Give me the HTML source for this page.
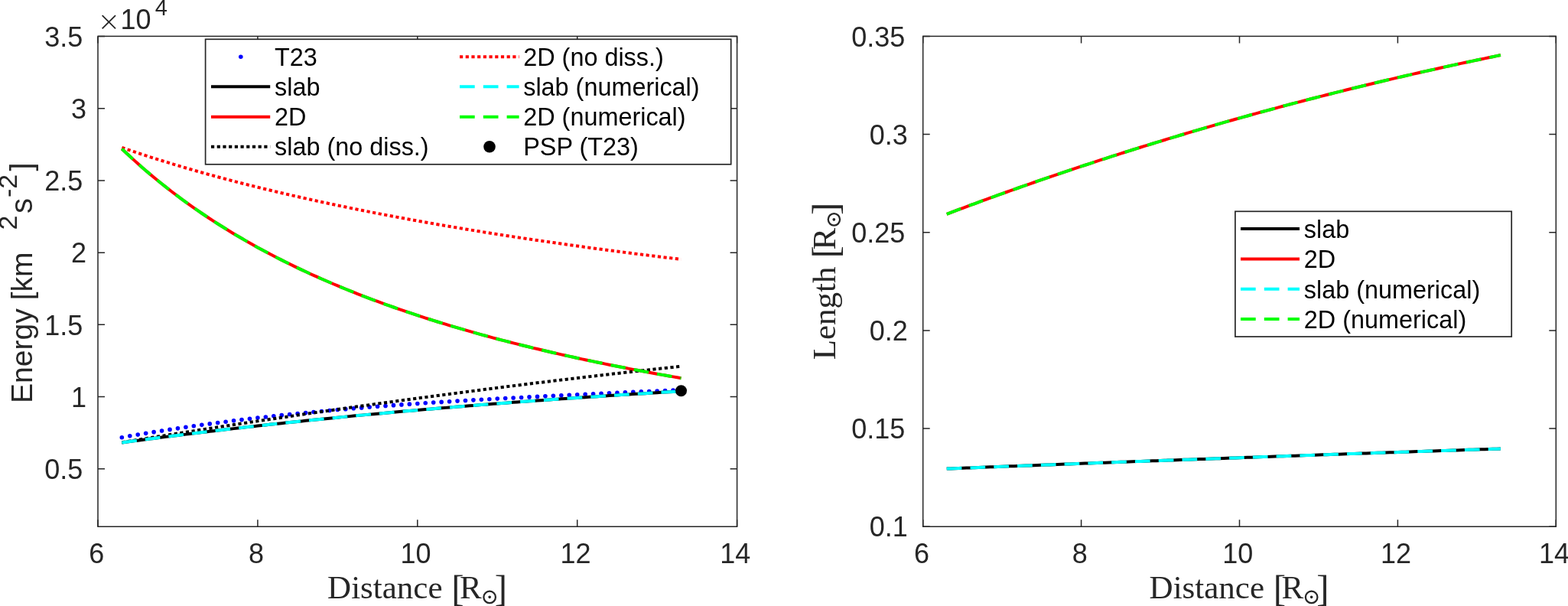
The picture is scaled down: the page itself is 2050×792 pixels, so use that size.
<!DOCTYPE html><html><head><meta charset="utf-8"><title>Energy and length vs distance</title><style>
html,body{margin:0;padding:0;background:#fff;}svg{display:block;}
.tk{font-family:"Liberation Sans",Arial,Helvetica,sans-serif;font-size:36px;fill:#262626;}
.lg{font-family:"Liberation Sans",Arial,Helvetica,sans-serif;font-size:32.4px;fill:#000;}
.lb{font-family:"Liberation Sans",Arial,Helvetica,sans-serif;font-size:40px;fill:#262626;}
.sf{font-family:"Liberation Serif","DejaVu Serif",serif;font-size:43px;fill:#262626;}
</style></head><body>
<svg width="2050" height="792" viewBox="0 0 2050 792">
<rect width="2050" height="792" fill="#fff"/>
<g stroke="#262626" stroke-width="1.5" fill="none"><rect x="128.00" y="47.40" width="835.60" height="640.85"/><path d="M128.00 688.25v-9.00 M128.00 47.40v9.00 M336.90 688.25v-9.00 M336.90 47.40v9.00 M545.80 688.25v-9.00 M545.80 47.40v9.00 M754.70 688.25v-9.00 M754.70 47.40v9.00 M963.60 688.25v-9.00 M963.60 47.40v9.00 M128.00 612.86h9.00 M963.60 612.86h-9.00 M128.00 518.61h9.00 M963.60 518.61h-9.00 M128.00 424.37h9.00 M963.60 424.37h-9.00 M128.00 330.13h9.00 M963.60 330.13h-9.00 M128.00 235.89h9.00 M963.60 235.89h-9.00 M128.00 141.64h9.00 M963.60 141.64h-9.00 M128.00 47.40h9.00 M963.60 47.40h-9.00"/></g>
<g stroke="#262626" stroke-width="1.5" fill="none"><rect x="1206.70" y="47.40" width="827.60" height="640.85"/><path d="M1206.70 688.25v-9.00 M1206.70 47.40v9.00 M1413.60 688.25v-9.00 M1413.60 47.40v9.00 M1620.50 688.25v-9.00 M1620.50 47.40v9.00 M1827.40 688.25v-9.00 M1827.40 47.40v9.00 M2034.30 688.25v-9.00 M2034.30 47.40v9.00 M1206.70 688.25h9.00 M2034.30 688.25h-9.00 M1206.70 560.08h9.00 M2034.30 560.08h-9.00 M1206.70 431.91h9.00 M2034.30 431.91h-9.00 M1206.70 303.74h9.00 M2034.30 303.74h-9.00 M1206.70 175.57h9.00 M2034.30 175.57h-9.00 M1206.70 47.40h9.00 M2034.30 47.40h-9.00"/></g>
<g fill="#0000ff"><circle cx="159.33" cy="571.68" r="2.8"/><circle cx="169.78" cy="569.86" r="2.8"/><circle cx="180.22" cy="568.09" r="2.8"/><circle cx="190.67" cy="566.35" r="2.8"/><circle cx="201.12" cy="564.66" r="2.8"/><circle cx="211.56" cy="563.01" r="2.8"/><circle cx="222.01" cy="561.40" r="2.8"/><circle cx="232.45" cy="559.83" r="2.8"/><circle cx="242.89" cy="558.29" r="2.8"/><circle cx="253.34" cy="556.80" r="2.8"/><circle cx="263.78" cy="555.34" r="2.8"/><circle cx="274.23" cy="553.92" r="2.8"/><circle cx="284.68" cy="552.53" r="2.8"/><circle cx="295.12" cy="551.18" r="2.8"/><circle cx="305.57" cy="549.86" r="2.8"/><circle cx="316.01" cy="548.58" r="2.8"/><circle cx="326.46" cy="547.33" r="2.8"/><circle cx="336.90" cy="546.11" r="2.8"/><circle cx="347.34" cy="544.93" r="2.8"/><circle cx="357.79" cy="543.77" r="2.8"/><circle cx="368.24" cy="542.64" r="2.8"/><circle cx="378.68" cy="541.55" r="2.8"/><circle cx="389.12" cy="540.48" r="2.8"/><circle cx="399.57" cy="539.44" r="2.8"/><circle cx="410.01" cy="538.43" r="2.8"/><circle cx="420.46" cy="537.44" r="2.8"/><circle cx="430.91" cy="536.48" r="2.8"/><circle cx="441.35" cy="535.55" r="2.8"/><circle cx="451.79" cy="534.64" r="2.8"/><circle cx="462.24" cy="533.76" r="2.8"/><circle cx="472.69" cy="532.89" r="2.8"/><circle cx="483.13" cy="532.05" r="2.8"/><circle cx="493.57" cy="531.23" r="2.8"/><circle cx="504.02" cy="530.44" r="2.8"/><circle cx="514.46" cy="529.66" r="2.8"/><circle cx="524.91" cy="528.90" r="2.8"/><circle cx="535.36" cy="528.17" r="2.8"/><circle cx="545.80" cy="527.45" r="2.8"/><circle cx="556.24" cy="526.75" r="2.8"/><circle cx="566.69" cy="526.06" r="2.8"/><circle cx="577.14" cy="525.39" r="2.8"/><circle cx="587.58" cy="524.74" r="2.8"/><circle cx="598.03" cy="524.10" r="2.8"/><circle cx="608.47" cy="523.48" r="2.8"/><circle cx="618.91" cy="522.87" r="2.8"/><circle cx="629.36" cy="522.27" r="2.8"/><circle cx="639.81" cy="521.68" r="2.8"/><circle cx="650.25" cy="521.11" r="2.8"/><circle cx="660.70" cy="520.54" r="2.8"/><circle cx="671.14" cy="519.99" r="2.8"/><circle cx="681.59" cy="519.44" r="2.8"/><circle cx="692.03" cy="518.91" r="2.8"/><circle cx="702.48" cy="518.38" r="2.8"/><circle cx="712.92" cy="517.86" r="2.8"/><circle cx="723.36" cy="517.35" r="2.8"/><circle cx="733.81" cy="516.84" r="2.8"/><circle cx="744.26" cy="516.33" r="2.8"/><circle cx="754.70" cy="515.83" r="2.8"/><circle cx="765.15" cy="515.34" r="2.8"/><circle cx="775.59" cy="514.85" r="2.8"/><circle cx="786.04" cy="514.36" r="2.8"/><circle cx="796.48" cy="513.87" r="2.8"/><circle cx="806.93" cy="513.38" r="2.8"/><circle cx="817.37" cy="512.89" r="2.8"/><circle cx="827.81" cy="512.41" r="2.8"/><circle cx="838.26" cy="511.92" r="2.8"/><circle cx="848.71" cy="511.43" r="2.8"/><circle cx="859.15" cy="510.93" r="2.8"/><circle cx="869.60" cy="510.44" r="2.8"/><circle cx="880.04" cy="509.94" r="2.8"/><circle cx="890.49" cy="509.43" r="2.8"/></g>
<path d="M159.33,578.46 L164.56,577.75 L169.78,577.05 L175.00,576.35 L180.22,575.65 L185.45,574.96 L190.67,574.27 L195.89,573.59 L201.12,572.91 L206.34,572.23 L211.56,571.56 L216.78,570.89 L222.01,570.23 L227.23,569.57 L232.45,568.91 L237.67,568.26 L242.89,567.61 L248.12,566.96 L253.34,566.32 L258.56,565.68 L263.78,565.05 L269.01,564.42 L274.23,563.79 L279.45,563.17 L284.68,562.55 L289.90,561.94 L295.12,561.33 L300.34,560.72 L305.57,560.12 L310.79,559.52 L316.01,558.92 L321.23,558.33 L326.46,557.74 L331.68,557.15 L336.90,556.57 L342.12,555.99 L347.34,555.42 L352.57,554.84 L357.79,554.28 L363.01,553.71 L368.24,553.15 L373.46,552.59 L378.68,552.04 L383.90,551.49 L389.12,550.94 L394.35,550.39 L399.57,549.85 L404.79,549.32 L410.01,548.78 L415.24,548.25 L420.46,547.72 L425.68,547.20 L430.91,546.68 L436.13,546.16 L441.35,545.64 L446.57,545.13 L451.80,544.62 L457.02,544.12 L462.24,543.61 L467.46,543.11 L472.69,542.62 L477.91,542.12 L483.13,541.63 L488.35,541.15 L493.57,540.66 L498.80,540.18 L504.02,539.70 L509.24,539.23 L514.47,538.76 L519.69,538.29 L524.91,537.82 L530.13,537.36 L535.36,536.90 L540.58,536.44 L545.80,535.98 L551.02,535.53 L556.25,535.08 L561.47,534.64 L566.69,534.19 L571.91,533.75 L577.14,533.31 L582.36,532.88 L587.58,532.44 L592.80,532.01 L598.03,531.58 L603.25,531.16 L608.47,530.74 L613.69,530.32 L618.92,529.90 L624.14,529.49 L629.36,529.07 L634.58,528.66 L639.81,528.26 L645.03,527.85 L650.25,527.45 L655.47,527.05 L660.70,526.65 L665.92,526.26 L671.14,525.86 L676.36,525.47 L681.59,525.09 L686.81,524.70 L692.03,524.32 L697.25,523.94 L702.48,523.56 L707.70,523.18 L712.92,522.81 L718.14,522.44 L723.37,522.07 L728.59,521.70 L733.81,521.34 L739.03,520.97 L744.26,520.61 L749.48,520.25 L754.70,519.90 L759.92,519.54 L765.15,519.19 L770.37,518.84 L775.59,518.49 L780.81,518.14 L786.04,517.80 L791.26,517.46 L796.48,517.12 L801.70,516.78 L806.93,516.44 L812.15,516.11 L817.37,515.78 L822.59,515.44 L827.82,515.12 L833.04,514.79 L838.26,514.46 L843.48,514.14 L848.71,513.82 L853.93,513.50 L859.15,513.18 L864.37,512.86 L869.60,512.55 L874.82,512.24 L880.04,511.93 L885.26,511.62 L890.49,511.31" fill="none" stroke="#000" stroke-width="4.00" stroke-linejoin="round"/>
<path d="M159.33,194.51 L164.56,199.47 L169.78,204.33 L175.00,209.11 L180.22,213.80 L185.45,218.41 L190.67,222.93 L195.89,227.38 L201.12,231.74 L206.34,236.04 L211.56,240.25 L216.78,244.40 L222.01,248.48 L227.23,252.49 L232.45,256.43 L237.67,260.31 L242.89,264.12 L248.12,267.87 L253.34,271.56 L258.56,275.19 L263.78,278.76 L269.01,282.28 L274.23,285.74 L279.45,289.15 L284.68,292.51 L289.90,295.81 L295.12,299.06 L300.34,302.27 L305.57,305.42 L310.79,308.53 L316.01,311.59 L321.23,314.61 L326.46,317.58 L331.68,320.51 L336.90,323.40 L342.12,326.24 L347.34,329.05 L352.57,331.81 L357.79,334.54 L363.01,337.23 L368.24,339.88 L373.46,342.49 L378.68,345.07 L383.90,347.61 L389.12,350.12 L394.35,352.60 L399.57,355.04 L404.79,357.45 L410.01,359.82 L415.24,362.17 L420.46,364.49 L425.68,366.77 L430.91,369.03 L436.13,371.25 L441.35,373.45 L446.57,375.62 L451.80,377.76 L457.02,379.88 L462.24,381.97 L467.46,384.03 L472.69,386.07 L477.91,388.08 L483.13,390.07 L488.35,392.04 L493.57,393.98 L498.80,395.90 L504.02,397.79 L509.24,399.66 L514.47,401.51 L519.69,403.34 L524.91,405.15 L530.13,406.93 L535.36,408.70 L540.58,410.44 L545.80,412.17 L551.02,413.87 L556.25,415.56 L561.47,417.23 L566.69,418.88 L571.91,420.51 L577.14,422.12 L582.36,423.71 L587.58,425.29 L592.80,426.85 L598.03,428.39 L603.25,429.92 L608.47,431.43 L613.69,432.92 L618.92,434.40 L624.14,435.86 L629.36,437.31 L634.58,438.74 L639.81,440.16 L645.03,441.56 L650.25,442.95 L655.47,444.32 L660.70,445.68 L665.92,447.02 L671.14,448.36 L676.36,449.67 L681.59,450.98 L686.81,452.27 L692.03,453.55 L697.25,454.82 L702.48,456.07 L707.70,457.31 L712.92,458.54 L718.14,459.76 L723.37,460.96 L728.59,462.16 L733.81,463.34 L739.03,464.51 L744.26,465.67 L749.48,466.82 L754.70,467.96 L759.92,469.09 L765.15,470.20 L770.37,471.31 L775.59,472.41 L780.81,473.49 L786.04,474.57 L791.26,475.64 L796.48,476.69 L801.70,477.74 L806.93,478.78 L812.15,479.81 L817.37,480.82 L822.59,481.84 L827.82,482.84 L833.04,483.83 L838.26,484.81 L843.48,485.79 L848.71,486.75 L853.93,487.71 L859.15,488.66 L864.37,489.60 L869.60,490.54 L874.82,491.46 L880.04,492.38 L885.26,493.29 L890.49,494.19" fill="none" stroke="#ff0000" stroke-width="4.00" stroke-linejoin="round"/>
<path d="M159.33,578.17 L164.56,577.32 L169.78,576.47 L175.00,575.62 L180.22,574.78 L185.45,573.94 L190.67,573.10 L195.89,572.26 L201.12,571.43 L206.34,570.59 L211.56,569.76 L216.78,568.93 L222.01,568.10 L227.23,567.27 L232.45,566.45 L237.67,565.63 L242.89,564.80 L248.12,563.99 L253.34,563.17 L258.56,562.35 L263.78,561.54 L269.01,560.73 L274.23,559.92 L279.45,559.11 L284.68,558.30 L289.90,557.50 L295.12,556.70 L300.34,555.90 L305.57,555.10 L310.79,554.30 L316.01,553.51 L321.23,552.72 L326.46,551.92 L331.68,551.14 L336.90,550.35 L342.12,549.56 L347.34,548.78 L352.57,548.00 L357.79,547.22 L363.01,546.45 L368.24,545.67 L373.46,544.90 L378.68,544.13 L383.90,543.36 L389.12,542.59 L394.35,541.83 L399.57,541.06 L404.79,540.30 L410.01,539.54 L415.24,538.79 L420.46,538.03 L425.68,537.28 L430.91,536.53 L436.13,535.78 L441.35,535.03 L446.57,534.29 L451.80,533.54 L457.02,532.80 L462.24,532.06 L467.46,531.33 L472.69,530.59 L477.91,529.86 L483.13,529.13 L488.35,528.40 L493.57,527.67 L498.80,526.95 L504.02,526.23 L509.24,525.51 L514.47,524.79 L519.69,524.07 L524.91,523.36 L530.13,522.65 L535.36,521.94 L540.58,521.23 L545.80,520.52 L551.02,519.82 L556.25,519.12 L561.47,518.42 L566.69,517.72 L571.91,517.03 L577.14,516.33 L582.36,515.64 L587.58,514.95 L592.80,514.27 L598.03,513.58 L603.25,512.90 L608.47,512.22 L613.69,511.54 L618.92,510.87 L624.14,510.19 L629.36,509.52 L634.58,508.85 L639.81,508.19 L645.03,507.52 L650.25,506.86 L655.47,506.20 L660.70,505.54 L665.92,504.88 L671.14,504.23 L676.36,503.58 L681.59,502.93 L686.81,502.28 L692.03,501.63 L697.25,500.99 L702.48,500.35 L707.70,499.71 L712.92,499.08 L718.14,498.44 L723.37,497.81 L728.59,497.18 L733.81,496.55 L739.03,495.93 L744.26,495.31 L749.48,494.69 L754.70,494.07 L759.92,493.45 L765.15,492.84 L770.37,492.23 L775.59,491.62 L780.81,491.01 L786.04,490.41 L791.26,489.80 L796.48,489.20 L801.70,488.60 L806.93,488.01 L812.15,487.42 L817.37,486.83 L822.59,486.24 L827.82,485.65 L833.04,485.07 L838.26,484.48 L843.48,483.91 L848.71,483.33 L853.93,482.75 L859.15,482.18 L864.37,481.61 L869.60,481.04 L874.82,480.48 L880.04,479.92 L885.26,479.36 L890.49,478.80" fill="none" stroke="#000" stroke-width="4.00" stroke-linejoin="round" stroke-dasharray="4.2 3.5"/>
<path d="M159.33,192.84 L164.56,194.64 L169.78,196.42 L175.00,198.18 L180.22,199.93 L185.45,201.65 L190.67,203.36 L195.89,205.04 L201.12,206.71 L206.34,208.37 L211.56,210.00 L216.78,211.62 L222.01,213.22 L227.23,214.80 L232.45,216.37 L237.67,217.92 L242.89,219.46 L248.12,220.98 L253.34,222.49 L258.56,223.98 L263.78,225.45 L269.01,226.92 L274.23,228.36 L279.45,229.80 L284.68,231.22 L289.90,232.63 L295.12,234.02 L300.34,235.40 L305.57,236.77 L310.79,238.12 L316.01,239.47 L321.23,240.80 L326.46,242.12 L331.68,243.42 L336.90,244.72 L342.12,246.00 L347.34,247.27 L352.57,248.54 L357.79,249.79 L363.01,251.03 L368.24,252.25 L373.46,253.47 L378.68,254.68 L383.90,255.88 L389.12,257.07 L394.35,258.24 L399.57,259.41 L404.79,260.57 L410.01,261.72 L415.24,262.86 L420.46,263.99 L425.68,265.11 L430.91,266.22 L436.13,267.32 L441.35,268.42 L446.57,269.50 L451.80,270.58 L457.02,271.65 L462.24,272.71 L467.46,273.76 L472.69,274.81 L477.91,275.84 L483.13,276.87 L488.35,277.89 L493.57,278.90 L498.80,279.91 L504.02,280.91 L509.24,281.90 L514.47,282.88 L519.69,283.85 L524.91,284.82 L530.13,285.78 L535.36,286.74 L540.58,287.69 L545.80,288.63 L551.02,289.56 L556.25,290.49 L561.47,291.41 L566.69,292.33 L571.91,293.23 L577.14,294.14 L582.36,295.03 L587.58,295.92 L592.80,296.80 L598.03,297.68 L603.25,298.55 L608.47,299.42 L613.69,300.28 L618.92,301.13 L624.14,301.98 L629.36,302.82 L634.58,303.66 L639.81,304.49 L645.03,305.32 L650.25,306.14 L655.47,306.96 L660.70,307.77 L665.92,308.57 L671.14,309.37 L676.36,310.17 L681.59,310.96 L686.81,311.74 L692.03,312.52 L697.25,313.30 L702.48,314.07 L707.70,314.83 L712.92,315.59 L718.14,316.35 L723.37,317.10 L728.59,317.85 L733.81,318.59 L739.03,319.33 L744.26,320.06 L749.48,320.79 L754.70,321.51 L759.92,322.23 L765.15,322.95 L770.37,323.66 L775.59,324.37 L780.81,325.07 L786.04,325.77 L791.26,326.47 L796.48,327.16 L801.70,327.85 L806.93,328.53 L812.15,329.21 L817.37,329.88 L822.59,330.56 L827.82,331.22 L833.04,331.89 L838.26,332.55 L843.48,333.21 L848.71,333.86 L853.93,334.51 L859.15,335.15 L864.37,335.80 L869.60,336.44 L874.82,337.07 L880.04,337.70 L885.26,338.33 L890.49,338.96" fill="none" stroke="#ff0000" stroke-width="4.00" stroke-linejoin="round" stroke-dasharray="4.2 3.5"/>
<path d="M159.33,578.46 L164.56,577.75 L169.78,577.05 L175.00,576.35 L180.22,575.65 L185.45,574.96 L190.67,574.27 L195.89,573.59 L201.12,572.91 L206.34,572.23 L211.56,571.56 L216.78,570.89 L222.01,570.23 L227.23,569.57 L232.45,568.91 L237.67,568.26 L242.89,567.61 L248.12,566.96 L253.34,566.32 L258.56,565.68 L263.78,565.05 L269.01,564.42 L274.23,563.79 L279.45,563.17 L284.68,562.55 L289.90,561.94 L295.12,561.33 L300.34,560.72 L305.57,560.12 L310.79,559.52 L316.01,558.92 L321.23,558.33 L326.46,557.74 L331.68,557.15 L336.90,556.57 L342.12,555.99 L347.34,555.42 L352.57,554.84 L357.79,554.28 L363.01,553.71 L368.24,553.15 L373.46,552.59 L378.68,552.04 L383.90,551.49 L389.12,550.94 L394.35,550.39 L399.57,549.85 L404.79,549.32 L410.01,548.78 L415.24,548.25 L420.46,547.72 L425.68,547.20 L430.91,546.68 L436.13,546.16 L441.35,545.64 L446.57,545.13 L451.80,544.62 L457.02,544.12 L462.24,543.61 L467.46,543.11 L472.69,542.62 L477.91,542.12 L483.13,541.63 L488.35,541.15 L493.57,540.66 L498.80,540.18 L504.02,539.70 L509.24,539.23 L514.47,538.76 L519.69,538.29 L524.91,537.82 L530.13,537.36 L535.36,536.90 L540.58,536.44 L545.80,535.98 L551.02,535.53 L556.25,535.08 L561.47,534.64 L566.69,534.19 L571.91,533.75 L577.14,533.31 L582.36,532.88 L587.58,532.44 L592.80,532.01 L598.03,531.58 L603.25,531.16 L608.47,530.74 L613.69,530.32 L618.92,529.90 L624.14,529.49 L629.36,529.07 L634.58,528.66 L639.81,528.26 L645.03,527.85 L650.25,527.45 L655.47,527.05 L660.70,526.65 L665.92,526.26 L671.14,525.86 L676.36,525.47 L681.59,525.09 L686.81,524.70 L692.03,524.32 L697.25,523.94 L702.48,523.56 L707.70,523.18 L712.92,522.81 L718.14,522.44 L723.37,522.07 L728.59,521.70 L733.81,521.34 L739.03,520.97 L744.26,520.61 L749.48,520.25 L754.70,519.90 L759.92,519.54 L765.15,519.19 L770.37,518.84 L775.59,518.49 L780.81,518.14 L786.04,517.80 L791.26,517.46 L796.48,517.12 L801.70,516.78 L806.93,516.44 L812.15,516.11 L817.37,515.78 L822.59,515.44 L827.82,515.12 L833.04,514.79 L838.26,514.46 L843.48,514.14 L848.71,513.82 L853.93,513.50 L859.15,513.18 L864.37,512.86 L869.60,512.55 L874.82,512.24 L880.04,511.93 L885.26,511.62 L890.49,511.31" fill="none" stroke="#00ffff" stroke-width="4.00" stroke-linejoin="round" stroke-dasharray="19.7 11.1"/>
<path d="M159.33,194.51 L164.56,199.47 L169.78,204.33 L175.00,209.11 L180.22,213.80 L185.45,218.41 L190.67,222.93 L195.89,227.38 L201.12,231.74 L206.34,236.04 L211.56,240.25 L216.78,244.40 L222.01,248.48 L227.23,252.49 L232.45,256.43 L237.67,260.31 L242.89,264.12 L248.12,267.87 L253.34,271.56 L258.56,275.19 L263.78,278.76 L269.01,282.28 L274.23,285.74 L279.45,289.15 L284.68,292.51 L289.90,295.81 L295.12,299.06 L300.34,302.27 L305.57,305.42 L310.79,308.53 L316.01,311.59 L321.23,314.61 L326.46,317.58 L331.68,320.51 L336.90,323.40 L342.12,326.24 L347.34,329.05 L352.57,331.81 L357.79,334.54 L363.01,337.23 L368.24,339.88 L373.46,342.49 L378.68,345.07 L383.90,347.61 L389.12,350.12 L394.35,352.60 L399.57,355.04 L404.79,357.45 L410.01,359.82 L415.24,362.17 L420.46,364.49 L425.68,366.77 L430.91,369.03 L436.13,371.25 L441.35,373.45 L446.57,375.62 L451.80,377.76 L457.02,379.88 L462.24,381.97 L467.46,384.03 L472.69,386.07 L477.91,388.08 L483.13,390.07 L488.35,392.04 L493.57,393.98 L498.80,395.90 L504.02,397.79 L509.24,399.66 L514.47,401.51 L519.69,403.34 L524.91,405.15 L530.13,406.93 L535.36,408.70 L540.58,410.44 L545.80,412.17 L551.02,413.87 L556.25,415.56 L561.47,417.23 L566.69,418.88 L571.91,420.51 L577.14,422.12 L582.36,423.71 L587.58,425.29 L592.80,426.85 L598.03,428.39 L603.25,429.92 L608.47,431.43 L613.69,432.92 L618.92,434.40 L624.14,435.86 L629.36,437.31 L634.58,438.74 L639.81,440.16 L645.03,441.56 L650.25,442.95 L655.47,444.32 L660.70,445.68 L665.92,447.02 L671.14,448.36 L676.36,449.67 L681.59,450.98 L686.81,452.27 L692.03,453.55 L697.25,454.82 L702.48,456.07 L707.70,457.31 L712.92,458.54 L718.14,459.76 L723.37,460.96 L728.59,462.16 L733.81,463.34 L739.03,464.51 L744.26,465.67 L749.48,466.82 L754.70,467.96 L759.92,469.09 L765.15,470.20 L770.37,471.31 L775.59,472.41 L780.81,473.49 L786.04,474.57 L791.26,475.64 L796.48,476.69 L801.70,477.74 L806.93,478.78 L812.15,479.81 L817.37,480.82 L822.59,481.84 L827.82,482.84 L833.04,483.83 L838.26,484.81 L843.48,485.79 L848.71,486.75 L853.93,487.71 L859.15,488.66 L864.37,489.60 L869.60,490.54 L874.82,491.46 L880.04,492.38 L885.26,493.29 L890.49,494.19" fill="none" stroke="#00ff00" stroke-width="4.00" stroke-linejoin="round" stroke-dasharray="19.7 11.1"/>
<circle cx="890.5" cy="510.7" r="7.5" fill="#000"/>
<path d="M1237.74,612.60 L1242.91,612.40 L1248.08,612.19 L1253.25,611.99 L1258.42,611.79 L1263.60,611.58 L1268.77,611.38 L1273.94,611.18 L1279.12,610.98 L1284.29,610.78 L1289.46,610.57 L1294.63,610.37 L1299.81,610.17 L1304.98,609.97 L1310.15,609.77 L1315.32,609.57 L1320.49,609.37 L1325.67,609.17 L1330.84,608.97 L1336.01,608.77 L1341.18,608.57 L1346.36,608.38 L1351.53,608.18 L1356.70,607.98 L1361.88,607.78 L1367.05,607.58 L1372.22,607.39 L1377.39,607.19 L1382.57,606.99 L1387.74,606.80 L1392.91,606.60 L1398.08,606.40 L1403.26,606.21 L1408.43,606.01 L1413.60,605.82 L1418.77,605.62 L1423.94,605.43 L1429.12,605.23 L1434.29,605.04 L1439.46,604.84 L1444.64,604.65 L1449.81,604.45 L1454.98,604.26 L1460.15,604.07 L1465.33,603.87 L1470.50,603.68 L1475.67,603.49 L1480.84,603.30 L1486.01,603.11 L1491.19,602.91 L1496.36,602.72 L1501.53,602.53 L1506.70,602.34 L1511.88,602.15 L1517.05,601.96 L1522.22,601.77 L1527.40,601.58 L1532.57,601.39 L1537.74,601.20 L1542.91,601.01 L1548.09,600.82 L1553.26,600.63 L1558.43,600.44 L1563.60,600.25 L1568.78,600.07 L1573.95,599.88 L1579.12,599.69 L1584.29,599.50 L1589.47,599.32 L1594.64,599.13 L1599.81,598.94 L1604.98,598.76 L1610.15,598.57 L1615.33,598.39 L1620.50,598.20 L1625.67,598.01 L1630.85,597.83 L1636.02,597.64 L1641.19,597.46 L1646.36,597.28 L1651.54,597.09 L1656.71,596.91 L1661.88,596.72 L1667.05,596.54 L1672.22,596.36 L1677.40,596.18 L1682.57,595.99 L1687.74,595.81 L1692.91,595.63 L1698.09,595.45 L1703.26,595.26 L1708.43,595.08 L1713.61,594.90 L1718.78,594.72 L1723.95,594.54 L1729.12,594.36 L1734.30,594.18 L1739.47,594.00 L1744.64,593.82 L1749.81,593.64 L1754.99,593.46 L1760.16,593.28 L1765.33,593.10 L1770.50,592.93 L1775.67,592.75 L1780.85,592.57 L1786.02,592.39 L1791.19,592.22 L1796.37,592.04 L1801.54,591.86 L1806.71,591.68 L1811.88,591.51 L1817.06,591.33 L1822.23,591.16 L1827.40,590.98 L1832.57,590.80 L1837.75,590.63 L1842.92,590.45 L1848.09,590.28 L1853.26,590.11 L1858.43,589.93 L1863.61,589.76 L1868.78,589.58 L1873.95,589.41 L1879.12,589.24 L1884.30,589.06 L1889.47,588.89 L1894.64,588.72 L1899.82,588.55 L1904.99,588.38 L1910.16,588.20 L1915.33,588.03 L1920.51,587.86 L1925.68,587.69 L1930.85,587.52 L1936.02,587.35 L1941.20,587.18 L1946.37,587.01 L1951.54,586.84 L1956.71,586.67 L1961.88,586.50" fill="none" stroke="#000" stroke-width="4.00" stroke-linejoin="round"/>
<path d="M1237.74,279.77 L1242.91,277.82 L1248.08,275.88 L1253.25,273.94 L1258.42,272.01 L1263.60,270.08 L1268.77,268.17 L1273.94,266.26 L1279.12,264.36 L1284.29,262.47 L1289.46,260.58 L1294.63,258.70 L1299.81,256.83 L1304.98,254.96 L1310.15,253.10 L1315.32,251.25 L1320.49,249.41 L1325.67,247.57 L1330.84,245.75 L1336.01,243.92 L1341.18,242.11 L1346.36,240.30 L1351.53,238.50 L1356.70,236.71 L1361.88,234.92 L1367.05,233.14 L1372.22,231.37 L1377.39,229.61 L1382.57,227.85 L1387.74,226.10 L1392.91,224.35 L1398.08,222.61 L1403.26,220.88 L1408.43,219.16 L1413.60,217.45 L1418.77,215.74 L1423.94,214.03 L1429.12,212.34 L1434.29,210.65 L1439.46,208.97 L1444.64,207.29 L1449.81,205.62 L1454.98,203.96 L1460.15,202.31 L1465.33,200.66 L1470.50,199.02 L1475.67,197.39 L1480.84,195.76 L1486.01,194.14 L1491.19,192.52 L1496.36,190.92 L1501.53,189.32 L1506.70,187.72 L1511.88,186.14 L1517.05,184.56 L1522.22,182.98 L1527.40,181.42 L1532.57,179.85 L1537.74,178.30 L1542.91,176.75 L1548.09,175.21 L1553.26,173.68 L1558.43,172.15 L1563.60,170.63 L1568.78,169.12 L1573.95,167.61 L1579.12,166.11 L1584.29,164.61 L1589.47,163.12 L1594.64,161.64 L1599.81,160.17 L1604.98,158.70 L1610.15,157.23 L1615.33,155.78 L1620.50,154.33 L1625.67,152.88 L1630.85,151.45 L1636.02,150.02 L1641.19,148.59 L1646.36,147.17 L1651.54,145.76 L1656.71,144.36 L1661.88,142.96 L1667.05,141.56 L1672.22,140.18 L1677.40,138.80 L1682.57,137.42 L1687.74,136.05 L1692.91,134.69 L1698.09,133.34 L1703.26,131.99 L1708.43,130.64 L1713.61,129.31 L1718.78,127.97 L1723.95,126.65 L1729.12,125.33 L1734.30,124.02 L1739.47,122.71 L1744.64,121.41 L1749.81,120.12 L1754.99,118.83 L1760.16,117.55 L1765.33,116.27 L1770.50,115.00 L1775.67,113.73 L1780.85,112.48 L1786.02,111.22 L1791.19,109.98 L1796.37,108.74 L1801.54,107.50 L1806.71,106.27 L1811.88,105.05 L1817.06,103.83 L1822.23,102.62 L1827.40,101.41 L1832.57,100.21 L1837.75,99.02 L1842.92,97.83 L1848.09,96.65 L1853.26,95.47 L1858.43,94.30 L1863.61,93.14 L1868.78,91.98 L1873.95,90.83 L1879.12,89.68 L1884.30,88.54 L1889.47,87.40 L1894.64,86.27 L1899.82,85.14 L1904.99,84.02 L1910.16,82.91 L1915.33,81.80 L1920.51,80.70 L1925.68,79.60 L1930.85,78.51 L1936.02,77.43 L1941.20,76.34 L1946.37,75.27 L1951.54,74.20 L1956.71,73.14 L1961.88,72.08" fill="none" stroke="#ff0000" stroke-width="4.00" stroke-linejoin="round"/>
<path d="M1237.74,612.60 L1242.91,612.40 L1248.08,612.19 L1253.25,611.99 L1258.42,611.79 L1263.60,611.58 L1268.77,611.38 L1273.94,611.18 L1279.12,610.98 L1284.29,610.78 L1289.46,610.57 L1294.63,610.37 L1299.81,610.17 L1304.98,609.97 L1310.15,609.77 L1315.32,609.57 L1320.49,609.37 L1325.67,609.17 L1330.84,608.97 L1336.01,608.77 L1341.18,608.57 L1346.36,608.38 L1351.53,608.18 L1356.70,607.98 L1361.88,607.78 L1367.05,607.58 L1372.22,607.39 L1377.39,607.19 L1382.57,606.99 L1387.74,606.80 L1392.91,606.60 L1398.08,606.40 L1403.26,606.21 L1408.43,606.01 L1413.60,605.82 L1418.77,605.62 L1423.94,605.43 L1429.12,605.23 L1434.29,605.04 L1439.46,604.84 L1444.64,604.65 L1449.81,604.45 L1454.98,604.26 L1460.15,604.07 L1465.33,603.87 L1470.50,603.68 L1475.67,603.49 L1480.84,603.30 L1486.01,603.11 L1491.19,602.91 L1496.36,602.72 L1501.53,602.53 L1506.70,602.34 L1511.88,602.15 L1517.05,601.96 L1522.22,601.77 L1527.40,601.58 L1532.57,601.39 L1537.74,601.20 L1542.91,601.01 L1548.09,600.82 L1553.26,600.63 L1558.43,600.44 L1563.60,600.25 L1568.78,600.07 L1573.95,599.88 L1579.12,599.69 L1584.29,599.50 L1589.47,599.32 L1594.64,599.13 L1599.81,598.94 L1604.98,598.76 L1610.15,598.57 L1615.33,598.39 L1620.50,598.20 L1625.67,598.01 L1630.85,597.83 L1636.02,597.64 L1641.19,597.46 L1646.36,597.28 L1651.54,597.09 L1656.71,596.91 L1661.88,596.72 L1667.05,596.54 L1672.22,596.36 L1677.40,596.18 L1682.57,595.99 L1687.74,595.81 L1692.91,595.63 L1698.09,595.45 L1703.26,595.26 L1708.43,595.08 L1713.61,594.90 L1718.78,594.72 L1723.95,594.54 L1729.12,594.36 L1734.30,594.18 L1739.47,594.00 L1744.64,593.82 L1749.81,593.64 L1754.99,593.46 L1760.16,593.28 L1765.33,593.10 L1770.50,592.93 L1775.67,592.75 L1780.85,592.57 L1786.02,592.39 L1791.19,592.22 L1796.37,592.04 L1801.54,591.86 L1806.71,591.68 L1811.88,591.51 L1817.06,591.33 L1822.23,591.16 L1827.40,590.98 L1832.57,590.80 L1837.75,590.63 L1842.92,590.45 L1848.09,590.28 L1853.26,590.11 L1858.43,589.93 L1863.61,589.76 L1868.78,589.58 L1873.95,589.41 L1879.12,589.24 L1884.30,589.06 L1889.47,588.89 L1894.64,588.72 L1899.82,588.55 L1904.99,588.38 L1910.16,588.20 L1915.33,588.03 L1920.51,587.86 L1925.68,587.69 L1930.85,587.52 L1936.02,587.35 L1941.20,587.18 L1946.37,587.01 L1951.54,586.84 L1956.71,586.67 L1961.88,586.50" fill="none" stroke="#00ffff" stroke-width="4.00" stroke-linejoin="round" stroke-dasharray="19.7 11.1"/>
<path d="M1237.74,279.77 L1242.91,277.82 L1248.08,275.88 L1253.25,273.94 L1258.42,272.01 L1263.60,270.08 L1268.77,268.17 L1273.94,266.26 L1279.12,264.36 L1284.29,262.47 L1289.46,260.58 L1294.63,258.70 L1299.81,256.83 L1304.98,254.96 L1310.15,253.10 L1315.32,251.25 L1320.49,249.41 L1325.67,247.57 L1330.84,245.75 L1336.01,243.92 L1341.18,242.11 L1346.36,240.30 L1351.53,238.50 L1356.70,236.71 L1361.88,234.92 L1367.05,233.14 L1372.22,231.37 L1377.39,229.61 L1382.57,227.85 L1387.74,226.10 L1392.91,224.35 L1398.08,222.61 L1403.26,220.88 L1408.43,219.16 L1413.60,217.45 L1418.77,215.74 L1423.94,214.03 L1429.12,212.34 L1434.29,210.65 L1439.46,208.97 L1444.64,207.29 L1449.81,205.62 L1454.98,203.96 L1460.15,202.31 L1465.33,200.66 L1470.50,199.02 L1475.67,197.39 L1480.84,195.76 L1486.01,194.14 L1491.19,192.52 L1496.36,190.92 L1501.53,189.32 L1506.70,187.72 L1511.88,186.14 L1517.05,184.56 L1522.22,182.98 L1527.40,181.42 L1532.57,179.85 L1537.74,178.30 L1542.91,176.75 L1548.09,175.21 L1553.26,173.68 L1558.43,172.15 L1563.60,170.63 L1568.78,169.12 L1573.95,167.61 L1579.12,166.11 L1584.29,164.61 L1589.47,163.12 L1594.64,161.64 L1599.81,160.17 L1604.98,158.70 L1610.15,157.23 L1615.33,155.78 L1620.50,154.33 L1625.67,152.88 L1630.85,151.45 L1636.02,150.02 L1641.19,148.59 L1646.36,147.17 L1651.54,145.76 L1656.71,144.36 L1661.88,142.96 L1667.05,141.56 L1672.22,140.18 L1677.40,138.80 L1682.57,137.42 L1687.74,136.05 L1692.91,134.69 L1698.09,133.34 L1703.26,131.99 L1708.43,130.64 L1713.61,129.31 L1718.78,127.97 L1723.95,126.65 L1729.12,125.33 L1734.30,124.02 L1739.47,122.71 L1744.64,121.41 L1749.81,120.12 L1754.99,118.83 L1760.16,117.55 L1765.33,116.27 L1770.50,115.00 L1775.67,113.73 L1780.85,112.48 L1786.02,111.22 L1791.19,109.98 L1796.37,108.74 L1801.54,107.50 L1806.71,106.27 L1811.88,105.05 L1817.06,103.83 L1822.23,102.62 L1827.40,101.41 L1832.57,100.21 L1837.75,99.02 L1842.92,97.83 L1848.09,96.65 L1853.26,95.47 L1858.43,94.30 L1863.61,93.14 L1868.78,91.98 L1873.95,90.83 L1879.12,89.68 L1884.30,88.54 L1889.47,87.40 L1894.64,86.27 L1899.82,85.14 L1904.99,84.02 L1910.16,82.91 L1915.33,81.80 L1920.51,80.70 L1925.68,79.60 L1930.85,78.51 L1936.02,77.43 L1941.20,76.34 L1946.37,75.27 L1951.54,74.20 L1956.71,73.14 L1961.88,72.08" fill="none" stroke="#00ff00" stroke-width="4.00" stroke-linejoin="round" stroke-dasharray="19.7 11.1"/>
<text class="tk" x="108.20" y="626.06" text-anchor="end">0.5</text>
<text class="tk" x="113.00" y="531.81" text-anchor="end">1</text>
<text class="tk" x="108.20" y="437.57" text-anchor="end">1.5</text>
<text class="tk" x="113.00" y="343.33" text-anchor="end">2</text>
<text class="tk" x="108.20" y="249.09" text-anchor="end">2.5</text>
<text class="tk" x="113.00" y="154.84" text-anchor="end">3</text>
<text class="tk" x="108.20" y="60.60" text-anchor="end">3.5</text>
<text class="tk" x="126.20" y="735.6" text-anchor="middle">6</text>
<text class="tk" x="335.10" y="735.6" text-anchor="middle">8</text>
<text class="tk" x="543.50" y="735.6" text-anchor="middle">10</text>
<text class="tk" x="752.40" y="735.6" text-anchor="middle">12</text>
<text class="tk" x="961.30" y="735.6" text-anchor="middle">14</text>
<text class="tk" x="1186.70" y="701.45" text-anchor="end">0.1</text>
<text class="tk" x="1183.40" y="573.28" text-anchor="end">0.15</text>
<text class="tk" x="1186.70" y="445.11" text-anchor="end">0.2</text>
<text class="tk" x="1183.40" y="316.94" text-anchor="end">0.25</text>
<text class="tk" x="1186.70" y="188.77" text-anchor="end">0.3</text>
<text class="tk" x="1183.40" y="60.60" text-anchor="end">0.35</text>
<text class="tk" x="1204.90" y="735.6" text-anchor="middle">6</text>
<text class="tk" x="1411.80" y="735.6" text-anchor="middle">8</text>
<text class="tk" x="1618.20" y="735.6" text-anchor="middle">10</text>
<text class="tk" x="1825.10" y="735.6" text-anchor="middle">12</text>
<text class="tk" x="2032.00" y="735.6" text-anchor="middle">14</text>
<text x="127.3" y="40.1" style="font-family:'DejaVu Sans','Liberation Sans',sans-serif;font-weight:200;font-size:36px" fill="#262626">×</text>
<text class="tk" x="157.4" y="37.6">10</text>
<text class="tk" x="202.8" y="20.1" style="font-size:29px">4</text>
<text class="sf" x="428.10" y="782.00">Distance</text><text class="sf" x="590.20" y="785.20" style="font-size:49px">[</text><text class="sf" x="600.90" y="782.00">R</text><text class="sf" x="629.00" y="788.00" style="font-family:'DejaVu Math TeX Gyre','DejaVu Serif','DejaVu Sans',serif;font-size:28px">⊙</text><text class="sf" x="646.80" y="785.20" style="font-size:49px">]</text>
<text class="sf" x="1502.60" y="781.80">Distance</text><text class="sf" x="1664.70" y="785.00" style="font-size:49px">[</text><text class="sf" x="1675.40" y="781.80">R</text><text class="sf" x="1703.50" y="787.80" style="font-family:'DejaVu Math TeX Gyre','DejaVu Serif','DejaVu Sans',serif;font-size:28px">⊙</text><text class="sf" x="1721.30" y="785.00" style="font-size:49px">]</text>
<g transform="translate(1092.1,470.3) rotate(-90)">
<text class="sf" x="0" y="0">Length</text>
<text class="sf" x="132.9" y="3.2" style="font-size:49px">[</text>
<text class="sf" x="143.8" y="0">R</text>
<text class="sf" x="172.4" y="6" style="font-family:'DejaVu Math TeX Gyre','DejaVu Serif','DejaVu Sans',serif;font-size:28px">⊙</text>
<text class="sf" x="189.2" y="3.2" style="font-size:49px">]</text>
</g>
<text class="lb" transform="translate(41.60,527.00) rotate(-90)" style="font-size:39.1px">Energy [km</text>
<text class="lb" transform="translate(22.10,300.50) rotate(-90)" style="font-size:34px">2</text>
<text class="lb" transform="translate(41.60,279.00) rotate(-90)">s</text>
<text class="lb" transform="translate(22.10,258.00) rotate(-90)" style="font-size:34px">-2</text>
<text class="lb" transform="translate(41.60,223.50) rotate(-90)">]</text>
<rect x="268.60" y="51.30" width="687.10" height="163.50" fill="#fff" stroke="#262626" stroke-width="1.7"/>
<circle cx="314.8" cy="74.20" r="2.8" fill="#0000ff"/>
<text class="lg" x="359.00" y="85.80">T23</text>
<path d="M276.00 113.35H353.20" fill="none" stroke="#000" stroke-width="4.00" stroke-linejoin="round"/>
<text class="lg" x="359.00" y="124.90">slab</text>
<path d="M276.00 152.80H353.20" fill="none" stroke="#ff0000" stroke-width="4.00" stroke-linejoin="round"/>
<text class="lg" x="359.00" y="164.00">2D</text>
<path d="M276.00 191.80H353.20" fill="none" stroke="#000" stroke-width="4.00" stroke-linejoin="round" stroke-dasharray="4.2 3.5"/>
<text class="lg" x="359.00" y="203.10">slab (no diss.)</text>
<path d="M601.00 74.20H678.60" fill="none" stroke="#ff0000" stroke-width="4.00" stroke-linejoin="round" stroke-dasharray="4.2 3.5"/>
<text class="lg" x="684.20" y="85.80">2D (no diss.)</text>
<path d="M601.00 113.35H678.60" fill="none" stroke="#00ffff" stroke-width="4.00" stroke-linejoin="round" stroke-dasharray="19.7 11.1"/>
<text class="lg" x="684.20" y="124.90">slab (numerical)</text>
<path d="M601.00 152.80H678.60" fill="none" stroke="#00ff00" stroke-width="4.00" stroke-linejoin="round" stroke-dasharray="19.7 11.1"/>
<text class="lg" x="684.20" y="164.00">2D (numerical)</text>
<circle cx="640" cy="191.80" r="7.8" fill="#000"/>
<text class="lg" x="684.20" y="203.10">PSP (T23)</text>
<rect x="1614.90" y="276.30" width="361.30" height="163.70" fill="#fff" stroke="#262626" stroke-width="1.7"/>
<path d="M1622.00 299.10H1699.00" fill="none" stroke="#000" stroke-width="4.00" stroke-linejoin="round"/>
<text class="lg" x="1704.80" y="311.00">slab</text>
<path d="M1622.00 338.50H1699.00" fill="none" stroke="#ff0000" stroke-width="4.00" stroke-linejoin="round"/>
<text class="lg" x="1704.80" y="350.40">2D</text>
<path d="M1622.00 377.80H1699.00" fill="none" stroke="#00ffff" stroke-width="4.00" stroke-linejoin="round" stroke-dasharray="19.7 11.1"/>
<text class="lg" x="1704.80" y="389.70">slab (numerical)</text>
<path d="M1622.00 417.10H1699.00" fill="none" stroke="#00ff00" stroke-width="4.00" stroke-linejoin="round" stroke-dasharray="19.7 11.1"/>
<text class="lg" x="1704.80" y="429.00">2D (numerical)</text>
</svg></body></html>
